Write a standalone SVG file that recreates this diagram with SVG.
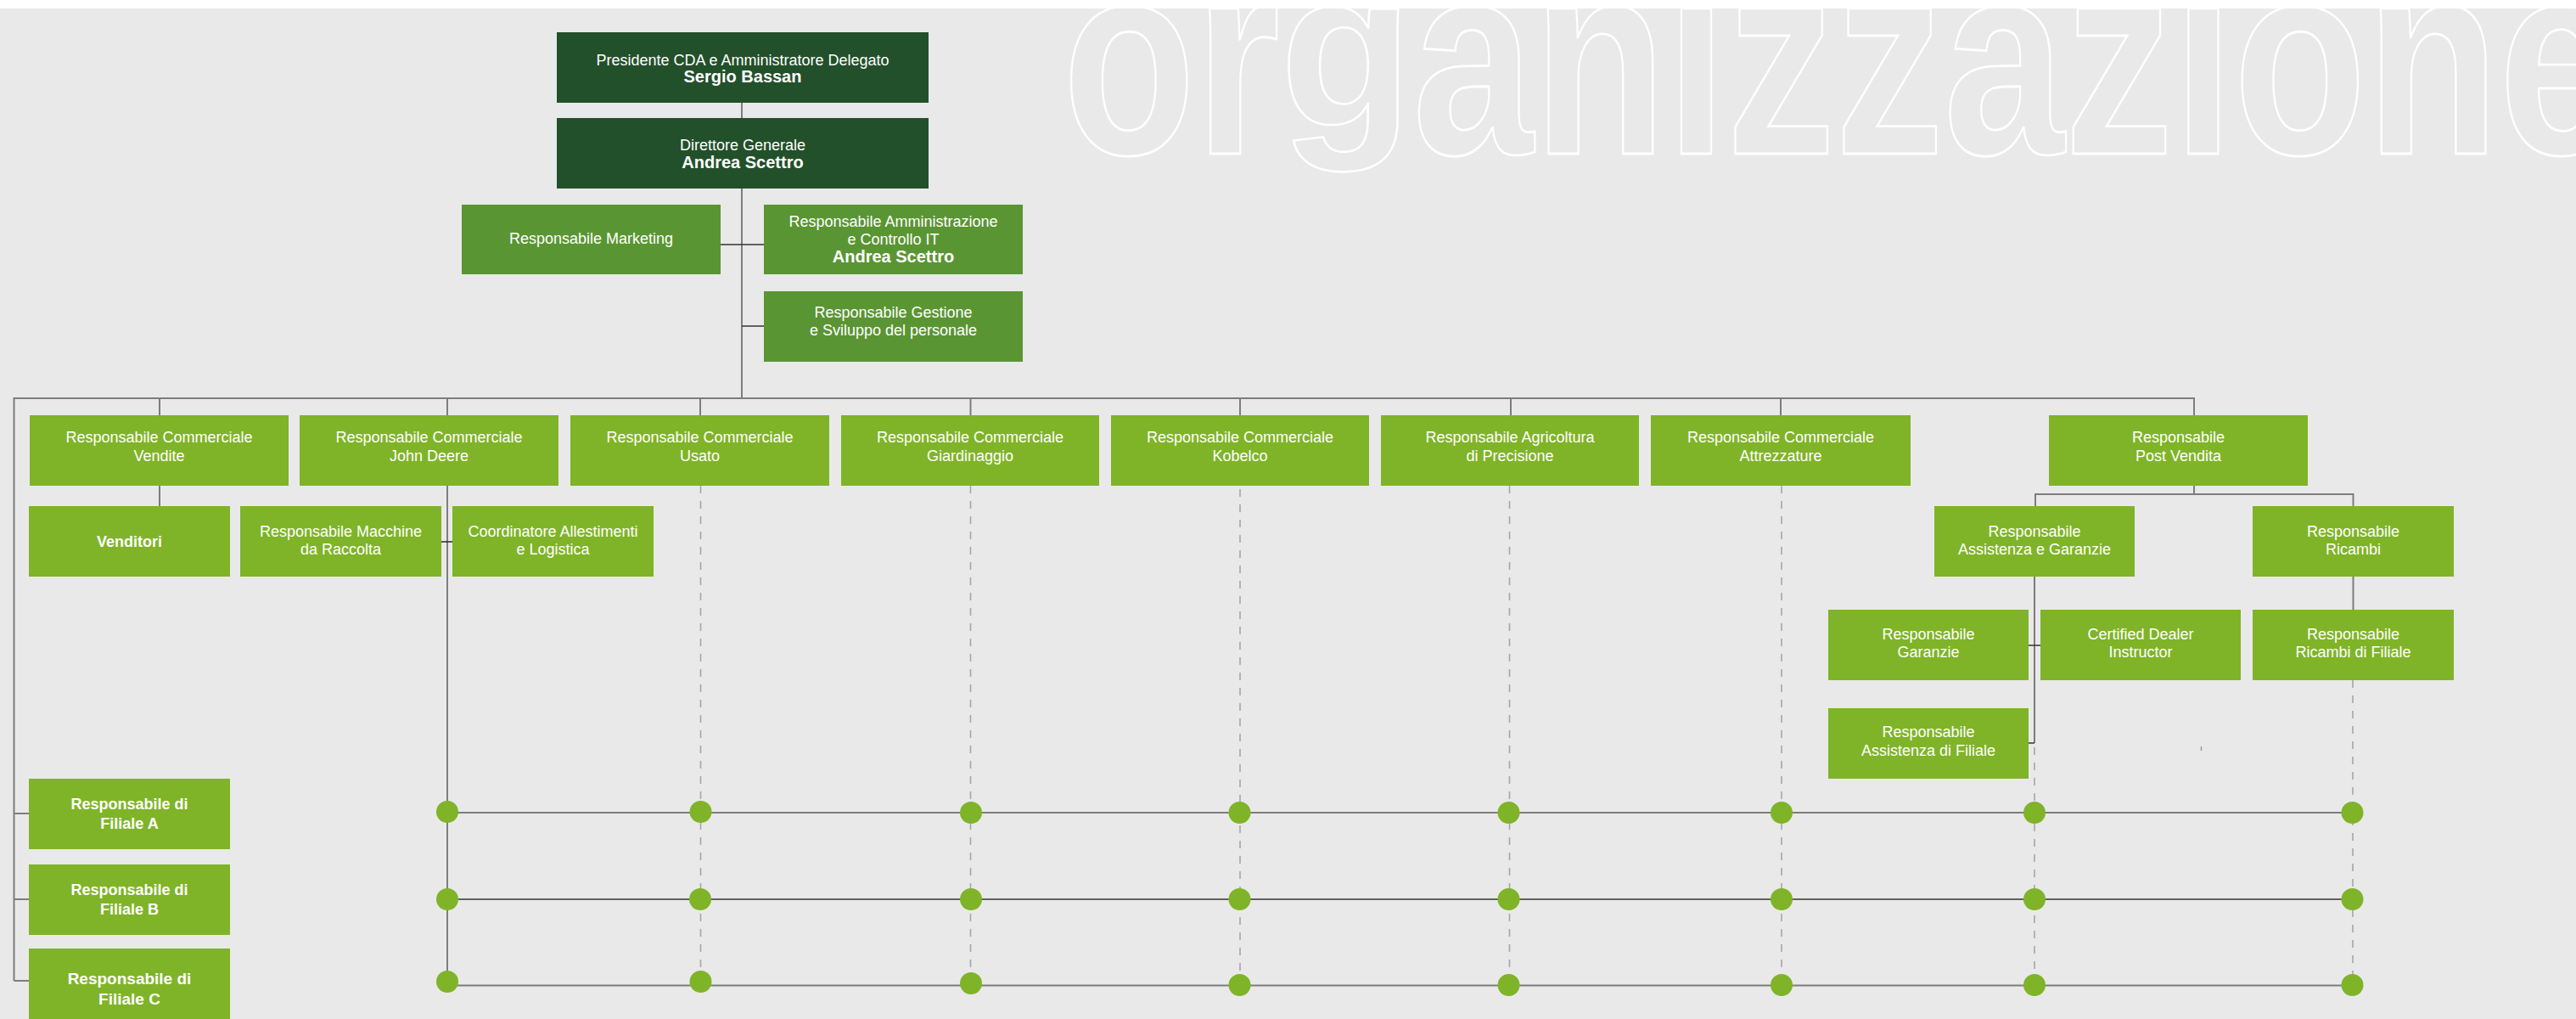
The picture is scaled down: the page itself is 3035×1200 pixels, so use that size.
<svg xmlns="http://www.w3.org/2000/svg" width="3035" height="1200" viewBox="0 0 3035 1200">
<style>
.dk{fill:#22502a}
.md{fill:#5a9533}
.lt{fill:#7fb428}
text{font-family:"Liberation Sans",Arial,sans-serif;font-size:18px;fill:#fff;text-anchor:middle}
.b{font-weight:bold;font-size:20px}
.b18{font-weight:bold;font-size:18px}
.ln{stroke:#7d7d7d;stroke-width:2;fill:none}
.sh{stroke:#333;stroke-width:1.6;fill:none}
.ds{stroke:#a6a6a6;stroke-width:1.6;stroke-dasharray:9 9;fill:none}
.dot{fill:#7fb428}
.wm text{font-family:"Liberation Sans",Arial,sans-serif;font-weight:bold;font-size:324px;fill:none;stroke:#fff;stroke-width:2.6;text-anchor:start}
</style>
<rect x="0" y="0" width="3035" height="1200" fill="#e9e9e9"/>
<g class="wm" transform="translate(1252,181) scale(0.79,1)">
<text x="0" y="0" vector-effect="non-scaling-stroke">or</text>
<text x="324" y="0" transform="translate(0,-168) scale(1,0.8) translate(0,168)" vector-effect="non-scaling-stroke">g</text>
<text x="522" y="0" vector-effect="non-scaling-stroke">anizzazione</text>
</g>
<rect x="0" y="0" width="3035" height="10" fill="#fff"/>

<g id="connectors">
<path class="ln" d="M874 121V139M874 222V469"/>
<path class="sh" d="M849 288H900M874 384H900"/>
<path class="ln" d="M16.5 1155V469H2585V489M188 469V489M527 469V489M825 469V489M1143.5 469V489M1461 469V489M1780 469V489M2098 469V489"/>
<path class="ln" d="M188 572V596M527 572V1157"/>
<path class="sh" d="M520 638H533"/>
<path class="ln" d="M2585 572V582M2398 596V582H2772.5V596"/>
<path class="ln" d="M2397 679V875"/>
<path class="sh" d="M2390 760H2404M2390 875H2397"/>
<path class="ln" d="M2772.5 679V718"/>
<path class="ln" d="M16.5 958H34M16.5 1059H34M16.5 1155H34"/>
<path class="ln" d="M527 957H2772"/>
<path class="sh" d="M527 1059H2772"/>
<path class="ln" d="M527 1160.5H2772"/>
<path class="ds" d="M825.5 572V1160M1143.5 572V1160M1461 576V1160M1778.5 572V1160M2099 572V1160M2397 880V1160M2772 801V1160"/>
<path d="M2593.5 879V884" stroke="#999" stroke-width="1.5"/>
</g>

<g id="dots">
<circle class="dot" cx="527" cy="956" r="13"/><circle class="dot" cx="825.5" cy="956" r="13"/><circle class="dot" cx="1144" cy="957" r="13"/><circle class="dot" cx="1460.5" cy="957" r="13"/><circle class="dot" cx="1777.5" cy="957" r="13"/><circle class="dot" cx="2099" cy="957" r="13"/><circle class="dot" cx="2397" cy="957" r="13"/><circle class="dot" cx="2771.5" cy="957" r="13"/>
<circle class="dot" cx="527" cy="1059" r="13"/><circle class="dot" cx="825" cy="1059" r="13"/><circle class="dot" cx="1144" cy="1059" r="13"/><circle class="dot" cx="1460.5" cy="1059" r="13"/><circle class="dot" cx="1777.5" cy="1059" r="13"/><circle class="dot" cx="2099" cy="1059" r="13"/><circle class="dot" cx="2397" cy="1059" r="13"/><circle class="dot" cx="2771.5" cy="1059" r="13"/>
<circle class="dot" cx="527" cy="1156" r="13"/><circle class="dot" cx="825.5" cy="1156" r="13"/><circle class="dot" cx="1144" cy="1158" r="13"/><circle class="dot" cx="1460.5" cy="1160" r="13"/><circle class="dot" cx="1777.5" cy="1160" r="13"/><circle class="dot" cx="2099" cy="1160" r="13"/><circle class="dot" cx="2397" cy="1160" r="13"/><circle class="dot" cx="2771.5" cy="1160" r="13"/>
</g>

<g id="presidente"><rect class="dk" x="656" y="38" width="438" height="83"/><text x="875" y="77">Presidente CDA e Amministratore Delegato</text><text class="b" x="875" y="97">Sergio Bassan</text></g>
<g id="direttore"><rect class="dk" x="656" y="139" width="438" height="83"/><text x="875" y="177">Direttore Generale</text><text class="b" x="875" y="198">Andrea Scettro</text></g>
<g id="marketing"><rect class="md" x="544" y="241" width="305" height="82"/><text x="696.5" y="287">Responsabile Marketing</text></g>
<g id="amministrazione"><rect class="md" x="900" y="241" width="305" height="82"/><text x="1052.5" y="266.5">Responsabile Amministrazione</text><text x="1052.5" y="287.5">e Controllo IT</text><text class="b" x="1052.5" y="309">Andrea Scettro</text></g>
<g id="gestione"><rect class="md" x="900" y="343" width="305" height="83"/><text x="1052.5" y="374">Responsabile Gestione</text><text x="1052.5" y="395">e Sviluppo del personale</text></g>

<g id="vendite"><rect class="lt" x="35" y="489" width="305" height="83"/><text x="187.5" y="521">Responsabile Commerciale</text><text x="187.5" y="543">Vendite</text></g>
<g id="johndeere"><rect class="lt" x="353" y="489" width="305" height="83"/><text x="505.5" y="521">Responsabile Commerciale</text><text x="505.5" y="543">John Deere</text></g>
<g id="usato"><rect class="lt" x="672" y="489" width="305" height="83"/><text x="824.5" y="521">Responsabile Commerciale</text><text x="824.5" y="543">Usato</text></g>
<g id="giardinaggio"><rect class="lt" x="991" y="489" width="304" height="83"/><text x="1143" y="521">Responsabile Commerciale</text><text x="1143" y="543">Giardinaggio</text></g>
<g id="kobelco"><rect class="lt" x="1309" y="489" width="304" height="83"/><text x="1461" y="521">Responsabile Commerciale</text><text x="1461" y="543">Kobelco</text></g>
<g id="agricoltura"><rect class="lt" x="1627" y="489" width="304" height="83"/><text x="1779" y="521">Responsabile Agricoltura</text><text x="1779" y="543">di Precisione</text></g>
<g id="attrezzature"><rect class="lt" x="1945" y="489" width="306" height="83"/><text x="2098" y="521">Responsabile Commerciale</text><text x="2098" y="543">Attrezzature</text></g>
<g id="postvendita"><rect class="lt" x="2414" y="489" width="305" height="83"/><text x="2566.5" y="521">Responsabile</text><text x="2566.5" y="543">Post Vendita</text></g>

<g id="venditori"><rect class="lt" x="34" y="596" width="237" height="83"/><text class="b18" x="152.5" y="644">Venditori</text></g>
<g id="macchine"><rect class="lt" x="283" y="596" width="237" height="83"/><text x="401.5" y="631.5">Responsabile Macchine</text><text x="401.5" y="653">da Raccolta</text></g>
<g id="coordinatore"><rect class="lt" x="533" y="596" width="237" height="83"/><text x="651.5" y="631.5">Coordinatore Allestimenti</text><text x="651.5" y="653">e Logistica</text></g>
<g id="assistenza"><rect class="lt" x="2279" y="596" width="236" height="83"/><text x="2397" y="631.5">Responsabile</text><text x="2397" y="653">Assistenza e Garanzie</text></g>
<g id="ricambi"><rect class="lt" x="2654" y="596" width="237" height="83"/><text x="2772.5" y="631.5">Responsabile</text><text x="2772.5" y="653">Ricambi</text></g>

<g id="garanzie"><rect class="lt" x="2154" y="718" width="236" height="83"/><text x="2272" y="752.5">Responsabile</text><text x="2272" y="773.5">Garanzie</text></g>
<g id="certified"><rect class="lt" x="2404" y="718" width="236" height="83"/><text x="2522" y="752.5">Certified Dealer</text><text x="2522" y="773.5">Instructor</text></g>
<g id="ricambifiliale"><rect class="lt" x="2654" y="718" width="237" height="83"/><text x="2772.5" y="752.5">Responsabile</text><text x="2772.5" y="773.5">Ricambi di Filiale</text></g>
<g id="assistenzafiliale"><rect class="lt" x="2154" y="834" width="236" height="83"/><text x="2272" y="868">Responsabile</text><text x="2272" y="890">Assistenza di Filiale</text></g>

<g id="filialeA"><rect class="lt" x="34" y="917" width="237" height="83"/><text class="b18" x="152.5" y="952.5">Responsabile di</text><text class="b18" x="152.5" y="975.5">Filiale A</text></g>
<g id="filialeB"><rect class="lt" x="34" y="1018" width="237" height="83"/><text class="b18" x="152.5" y="1053.5">Responsabile di</text><text class="b18" x="152.5" y="1076.5">Filiale B</text></g>
<g id="filialeC"><rect class="lt" x="34" y="1117" width="237" height="83"/><text class="b18" x="152.5" y="1159" style="font-size:19px">Responsabile di</text><text class="b18" x="152.5" y="1183" style="font-size:19px">Filiale C</text></g>
</svg>
